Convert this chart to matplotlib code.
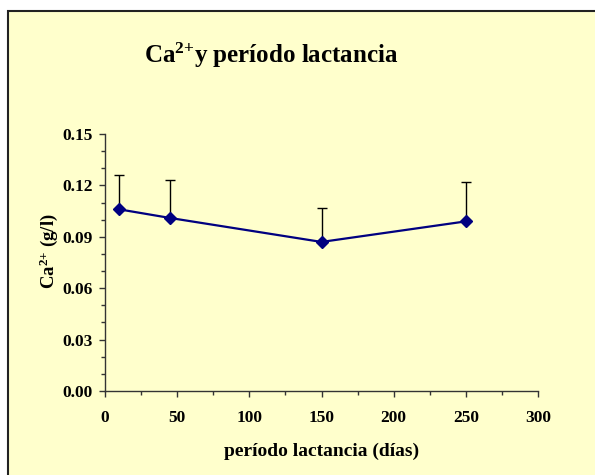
import matplotlib
matplotlib.use("Agg")
import matplotlib.pyplot as plt
from matplotlib.patches import Rectangle
from matplotlib.ticker import MultipleLocator

# data
dias = [10, 45, 150, 250]
calcio = [0.106, 0.101, 0.087, 0.099]
err_sup = [0.020, 0.022, 0.020, 0.023]

x_ticks = [0, 50, 100, 150, 200, 250, 300]
y_ticks = [0.00, 0.03, 0.06, 0.09, 0.12, 0.15]

BG = "#FFFFCC"
NAVY = "#000080"

plt.rcParams["font.family"] = "Liberation Serif"
plt.rcParams["font.weight"] = "bold"
plt.rcParams["mathtext.fontset"] = "custom"
plt.rcParams["mathtext.rm"] = "Liberation Serif:bold"
plt.rcParams["mathtext.it"] = "Liberation Serif:bold"
plt.rcParams["mathtext.bf"] = "Liberation Serif:bold"

fig = plt.figure(figsize=(5.95, 4.75), dpi=100)
fig.patch.set_facecolor("white")

# chart area with border (only top/left visible)
fig.patches.append(Rectangle((8 / 595, -0.1), 1.2, 1 - 11 / 475 + 0.1,
                             transform=fig.transFigure, facecolor=BG,
                             edgecolor="#222222", linewidth=1.5, zorder=-1))

ax = fig.add_axes([105 / 595, 1 - 391 / 475, 433 / 595, 257 / 475])
ax.set_facecolor("none")

ax.errorbar(dias, calcio, yerr=[[0] * len(err_sup), err_sup], fmt="none",
            ecolor="black", elinewidth=1.0, capsize=3.5, capthick=1.0, zorder=2)
ax.plot(dias, calcio, color=NAVY, linewidth=1.6, marker="D", markersize=6,
        markerfacecolor=NAVY, markeredgecolor=NAVY, zorder=3)

ax.set_xlim(0, 300)
ax.set_ylim(0, 0.15)
ax.set_xticks(x_ticks)
ax.set_yticks(y_ticks)
ax.set_yticklabels(["%.2f" % v for v in y_ticks])
ax.xaxis.set_minor_locator(MultipleLocator(25))
ax.yaxis.set_minor_locator(MultipleLocator(0.01))

for s in ["top", "right"]:
    ax.spines[s].set_visible(False)
for s in ["left", "bottom"]:
    ax.spines[s].set_color("#333333")
    ax.spines[s].set_linewidth(1.0)

ax.tick_params(axis="both", which="major", length=4, width=1, color="#333333",
               labelsize=12.5, pad=5)
ax.tick_params(axis="both", which="minor", length=3, width=1, color="#333333")
ax.tick_params(axis="x", pad=10)

ax.set_xlabel("período lactancia (días)", fontsize=14, fontweight="bold", labelpad=12)
ax.set_ylabel(r"Ca$^{2{+}}$ (g/l)", fontsize=13.5, fontweight="bold")
ax.yaxis.set_label_coords(-0.104, 0.545)

fig.text(0.455, 1 - 55 / 475, r"Ca$^{2{+}}$y período lactancia", ha="center",
         va="center", fontsize=18, fontweight="bold")

fig.savefig("out.png", dpi=100, facecolor=fig.get_facecolor())
